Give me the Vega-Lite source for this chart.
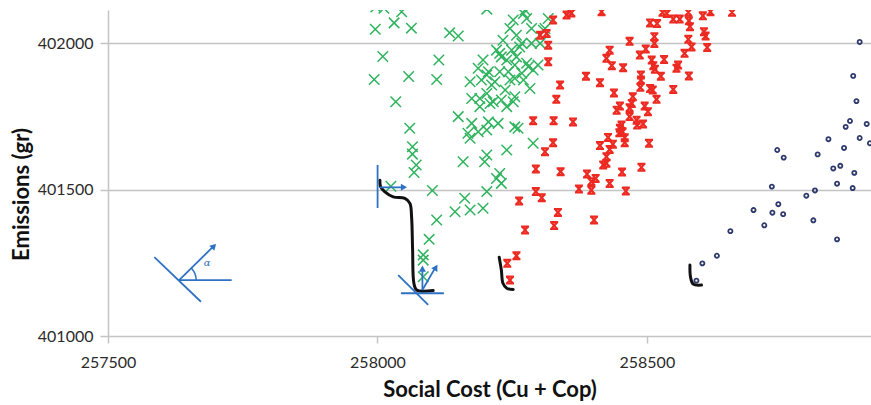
{
  "$schema": "https://vega.github.io/schema/vega-lite/v6.json",
  "width": 763,
  "height": 326,
  "autosize": {"type": "none"},
  "padding": {"left": 108, "top": 10, "right": 0, "bottom": 69},
  "background": "white",
  "config": {"view": {"stroke": null}, "font": "Lato"},
  "datasets": {
    "green": [
      {"cost":257996,"emis":402047},{"cost":258031,"emis":402069},{"cost":258063,"emis":402051},{"cost":258045,"emis":402107},{"cost":258010,"emis":401954},{"cost":258114,"emis":401942},{"cost":257994,"emis":401876},{"cost":258058,"emis":401886},{"cost":258110,"emis":401876},{"cost":258034,"emis":401800},{"cost":258060,"emis":401709},{"cost":258065,"emis":401646},{"cost":258065,"emis":401621},{"cost":258072,"emis":401584},{"cost":258068,"emis":401558},{"cost":258025,"emis":401511},{"cost":258102,"emis":401497},{"cost":258110,"emis":401396},{"cost":258096,"emis":401330},{"cost":258085,"emis":401277},{"cost":258085,"emis":401259},{"cost":258085,"emis":401202},{"cost":258134,"emis":402035},{"cost":258150,"emis":402024},{"cost":258144,"emis":401424},{"cost":258162,"emis":401470},{"cost":258172,"emis":401430},{"cost":258196,"emis":401436},{"cost":258203,"emis":401493},{"cost":258203,"emis":402116},{"cost":258271,"emis":402101},{"cost":258277,"emis":402084},{"cost":258252,"emis":402079},{"cost":258246,"emis":402050},{"cost":258286,"emis":402050},{"cost":258317,"emis":402084},{"cost":258311,"emis":402050},{"cost":258308,"emis":402044},{"cost":258258,"emis":402027},{"cost":258233,"emis":402010},{"cost":258268,"emis":401999},{"cost":258286,"emis":401999},{"cost":258302,"emis":401999},{"cost":258264,"emis":401987},{"cost":258227,"emis":401965},{"cost":258249,"emis":401976},{"cost":258221,"emis":401976},{"cost":258196,"emis":401942},{"cost":258240,"emis":401942},{"cost":258230,"emis":401953},{"cost":258258,"emis":401953},{"cost":258255,"emis":401925},{"cost":258277,"emis":401931},{"cost":258280,"emis":401919},{"cost":258298,"emis":401925},{"cost":258289,"emis":401908},{"cost":258187,"emis":401914},{"cost":258206,"emis":401902},{"cost":258227,"emis":401902},{"cost":258243,"emis":401902},{"cost":258268,"emis":401897},{"cost":258203,"emis":401891},{"cost":258172,"emis":401868},{"cost":258193,"emis":401874},{"cost":258218,"emis":401868},{"cost":258246,"emis":401874},{"cost":258271,"emis":401874},{"cost":258255,"emis":401880},{"cost":258212,"emis":401857},{"cost":258283,"emis":401845},{"cost":258175,"emis":401811},{"cost":258190,"emis":401811},{"cost":258203,"emis":401828},{"cost":258237,"emis":401840},{"cost":258255,"emis":401817},{"cost":258209,"emis":401794},{"cost":258230,"emis":401806},{"cost":258240,"emis":401783},{"cost":258190,"emis":401783},{"cost":258215,"emis":401800},{"cost":258252,"emis":401800},{"cost":258150,"emis":401749},{"cost":258175,"emis":401726},{"cost":258206,"emis":401731},{"cost":258224,"emis":401726},{"cost":258255,"emis":401714},{"cost":258261,"emis":401709},{"cost":258168,"emis":401692},{"cost":258187,"emis":401697},{"cost":258172,"emis":401675},{"cost":258203,"emis":401703},{"cost":258289,"emis":401658},{"cost":258240,"emis":401635},{"cost":258203,"emis":401618},{"cost":258199,"emis":401595},{"cost":258159,"emis":401595},{"cost":258227,"emis":401555},{"cost":258221,"emis":401538},{"cost":258230,"emis":401521},{"cost":257997,"emis":402123},{"cost":258012,"emis":402119},{"cost":258274,"emis":402113}
    ],
    "red": [
      {"cost":258326,"emis":402079},{"cost":258351,"emis":402096},{"cost":258360,"emis":402103},{"cost":258416,"emis":402107},{"cost":258314,"emis":402033},{"cost":258302,"emis":402027},{"cost":258317,"emis":401993},{"cost":258317,"emis":401936},{"cost":258431,"emis":401976},{"cost":258425,"emis":401948},{"cost":258435,"emis":401923},{"cost":258456,"emis":401916},{"cost":258387,"emis":401887},{"cost":258413,"emis":401865},{"cost":258339,"emis":401857},{"cost":258332,"emis":401808},{"cost":258439,"emis":401830},{"cost":258450,"emis":401785},{"cost":258444,"emis":401771},{"cost":258289,"emis":401735},{"cost":258327,"emis":401735},{"cost":258363,"emis":401731},{"cost":258450,"emis":401709},{"cost":258449,"emis":401694},{"cost":258428,"emis":401678},{"cost":258437,"emis":401655},{"cost":258413,"emis":401650},{"cost":258326,"emis":401660},{"cost":258311,"emis":401629},{"cost":258431,"emis":401637},{"cost":258425,"emis":401612},{"cost":258425,"emis":401590},{"cost":258419,"emis":401584},{"cost":258294,"emis":401570},{"cost":258340,"emis":401561},{"cost":258454,"emis":401560},{"cost":258389,"emis":401553},{"cost":258405,"emis":401538},{"cost":258397,"emis":401527},{"cost":258431,"emis":401521},{"cost":258374,"emis":401502},{"cost":258397,"emis":401498},{"cost":258294,"emis":401493},{"cost":258305,"emis":401472},{"cost":258461,"emis":401495},{"cost":258263,"emis":401461},{"cost":258335,"emis":401422},{"cost":258402,"emis":401396},{"cost":258328,"emis":401377},{"cost":258274,"emis":401362},{"cost":258258,"emis":401274},{"cost":258241,"emis":401248},{"cost":258246,"emis":401191},{"cost":258529,"emis":402105},{"cost":258537,"emis":402101},{"cost":258577,"emis":402105},{"cost":258604,"emis":402093},{"cost":258618,"emis":402107},{"cost":258506,"emis":402069},{"cost":258519,"emis":402067},{"cost":258549,"emis":402082},{"cost":258561,"emis":402082},{"cost":258578,"emis":402076},{"cost":258580,"emis":402056},{"cost":258606,"emis":402039},{"cost":258609,"emis":402024},{"cost":258468,"emis":402006},{"cost":258514,"emis":402022},{"cost":258514,"emis":401999},{"cost":258577,"emis":402013},{"cost":258583,"emis":401987},{"cost":258612,"emis":401985},{"cost":258498,"emis":401980},{"cost":258487,"emis":401959},{"cost":258570,"emis":401965},{"cost":258509,"emis":401942},{"cost":258532,"emis":401944},{"cost":258512,"emis":401923},{"cost":258515,"emis":401911},{"cost":258558,"emis":401925},{"cost":258555,"emis":401914},{"cost":258526,"emis":401887},{"cost":258578,"emis":401888},{"cost":258489,"emis":401891},{"cost":258489,"emis":401874},{"cost":258488,"emis":401849},{"cost":258506,"emis":401845},{"cost":258511,"emis":401840},{"cost":258549,"emis":401842},{"cost":258474,"emis":401817},{"cost":258518,"emis":401808},{"cost":258472,"emis":401794},{"cost":258468,"emis":401779},{"cost":258496,"emis":401785},{"cost":258502,"emis":401766},{"cost":258468,"emis":401749},{"cost":258481,"emis":401737},{"cost":258482,"emis":401720},{"cost":258493,"emis":401724},{"cost":258453,"emis":401720},{"cost":258455,"emis":401697},{"cost":258459,"emis":401677},{"cost":258459,"emis":401660},{"cost":258504,"emis":401658},{"cost":258490,"emis":401576},{"cost":258658,"emis":402105}
    ],
    "navy": [
      {"cost":258895,"emis":402004},{"cost":258883,"emis":401888},{"cost":258889,"emis":401802},{"cost":258877,"emis":401734},{"cost":258869,"emis":401714},{"cost":258908,"emis":401724},{"cost":258837,"emis":401672},{"cost":258895,"emis":401676},{"cost":258914,"emis":401658},{"cost":258866,"emis":401642},{"cost":258742,"emis":401635},{"cost":258754,"emis":401609},{"cost":258817,"emis":401620},{"cost":258846,"emis":401572},{"cost":258859,"emis":401581},{"cost":258885,"emis":401557},{"cost":258853,"emis":401520},{"cost":258882,"emis":401505},{"cost":258732,"emis":401510},{"cost":258796,"emis":401479},{"cost":258812,"emis":401497},{"cost":258744,"emis":401450},{"cost":258698,"emis":401430},{"cost":258733,"emis":401421},{"cost":258753,"emis":401416},{"cost":258718,"emis":401378},{"cost":258809,"emis":401395},{"cost":258853,"emis":401330},{"cost":258655,"emis":401358},{"cost":258630,"emis":401274},{"cost":258603,"emis":401248},{"cost":258592,"emis":401189}
    ],
    "curves": [
      {"id":1,"seq":1,"cost":258004.6,"emis":401532},{"id":1,"seq":2,"cost":258005.9,"emis":401510},{"id":1,"seq":3,"cost":258013.9,"emis":401492},{"id":1,"seq":4,"cost":258029.3,"emis":401475},{"id":1,"seq":5,"cost":258051,"emis":401470},{"id":1,"seq":6,"cost":258060.3,"emis":401453},{"id":1,"seq":7,"cost":258063.4,"emis":401407},{"id":1,"seq":8,"cost":258065.3,"emis":401294},{"id":1,"seq":9,"cost":258067.7,"emis":401180},{"id":1,"seq":10,"cost":258072.7,"emis":401157},{"id":1,"seq":11,"cost":258103.5,"emis":401155},
      {"id":2,"seq":1,"cost":258226,"emis":401269},{"id":2,"seq":2,"cost":258230,"emis":401225},{"id":2,"seq":3,"cost":258233,"emis":401180},{"id":2,"seq":4,"cost":258240,"emis":401163},{"id":2,"seq":5,"cost":258252,"emis":401159},
      {"id":3,"seq":1,"cost":258580,"emis":401242},{"id":3,"seq":2,"cost":258581,"emis":401202},{"id":3,"seq":3,"cost":258586,"emis":401177},{"id":3,"seq":4,"cost":258601.5,"emis":401174}
    ],
    "arc": [
      {"seq":1,"cost":257654.5,"emis":401232},{"seq":2,"cost":257661.4,"emis":401213},{"seq":3,"cost":257663.8,"emis":401191}
    ],
    "segs": [
      {"id":"A","cost":257586,"emis":401269,"cost2":257672.5,"emis2":401117},
      {"id":"B","cost":257632,"emis":401191,"cost2":257729.5,"emis2":401191},
      {"id":"C","cost":257632,"emis":401191,"cost2":257698,"emis2":401310},
      {"id":"D","cost":258000.3,"emis":401584,"cost2":258000.3,"emis2":401437},
      {"id":"E","cost":258004.6,"emis":401507.5,"cost2":258050,"emis2":401507.5},
      {"id":"F","cost":258043.6,"emis":401146,"cost2":258123.4,"emis2":401146},
      {"id":"G","cost":258038.6,"emis":401208,"cost2":258094.2,"emis2":401106},
      {"id":"H","cost":258083.5,"emis":401157,"cost2":258083.5,"emis2":401232},
      {"id":"I","cost":258083.5,"emis":401157,"cost2":258108,"emis2":401235}
    ],
    "heads": [
      {"id":"C","cost":257696.6,"emis":401307},
      {"id":"E","cost":258049.2,"emis":401508},
      {"id":"H","cost":258083.5,"emis":401230},
      {"id":"I","cost":258108.5,"emis":401234}
    ],
    "lbl": [
      {"cost":257684,"emis":401248,"t":"α"}
    ]
  },
  "encoding": {
    "x": {
      "field": "cost", "type": "quantitative",
      "scale": {"domain": [257500, 258916], "nice": false, "zero": false},
      "axis": {
        "title": "Social Cost (Cu + Cop)", "values": [257500, 258000, 258500], "format": "d",
        "grid": false, "domain": false, "ticks": true, "tickColor": "#c4c4c4", "tickSize": 7, "tickWidth": 1.5,
        "labelFlush": false, "labelOverlap": false, "labelFont": "Lato", "labelFontSize": 16, "labelColor": "#2b2b2b", "labelPadding": 11,
        "titleFont": "Lato", "titleFontSize": 22, "titleFontWeight": "bold", "titleColor": "#111111",
        "titleBaseline": "alphabetic", "titleY": 60
      }
    },
    "y": {
      "field": "emis", "type": "quantitative",
      "scale": {"domain": [401000, 402113], "nice": false, "zero": false},
      "axis": {
        "title": "Emissions (gr)", "values": [401000, 401500, 402000], "format": "d",
        "grid": true, "gridColor": "#c4c4c4", "gridWidth": 1.5,
        "domain": true, "domainColor": "#c4c4c4", "domainWidth": 1.5,
        "ticks": true, "tickColor": "#c4c4c4", "tickSize": 8, "tickWidth": 1.5,
        "labelFont": "Lato", "labelFontSize": 16, "labelColor": "#2b2b2b", "labelPadding": 7,
        "titleFont": "Lato", "titleFontSize": 22, "titleFontWeight": "bold", "titleColor": "#111111",
        "titleAngle": 270, "titleAlign": "center", "titleBaseline": "alphabetic", "titleX": -80, "titleY": 184
      }
    }
  },
  "layer": [
    {
      "data": {"name": "green"},
      "mark": {"type": "point", "shape": "M-1,-1L1,1M-1,1L1,-1", "filled": false, "size": 110, "stroke": "#2fb35e", "strokeWidth": 1.5, "opacity": 1, "clip": true}
    },
    {
      "data": {"name": "red"},
      "mark": {"type": "point", "shape": "M-1,-0.85H1M-1,0.85H1M-0.75,-0.85L0.75,0.85M0.75,-0.85L-0.75,0.85", "filled": false, "size": 64, "stroke": "#ec2a22", "strokeWidth": 2.2, "opacity": 1, "clip": true}
    },
    {
      "data": {"name": "navy"},
      "mark": {"type": "point", "shape": "circle", "filled": false, "size": 17, "stroke": "#2e3a6c", "strokeWidth": 1.8, "opacity": 1, "clip": true}
    },
    {
      "data": {"name": "curves"},
      "mark": {"type": "line", "color": "#111111", "strokeWidth": 3, "interpolate": "catmull-rom", "strokeCap": "round", "clip": true},
      "encoding": {"detail": {"field": "id", "type": "nominal"}, "order": {"field": "seq", "type": "quantitative"}}
    },
    {
      "data": {"name": "segs"},
      "mark": {"type": "rule", "color": "#2f72c4", "strokeWidth": 1.8, "clip": true},
      "encoding": {"x2": {"field": "cost2"}, "y2": {"field": "emis2"}}
    },
    {
      "data": {"name": "arc"},
      "mark": {"type": "line", "color": "#2f72c4", "strokeWidth": 1.5, "interpolate": "catmull-rom", "clip": true},
      "encoding": {"order": {"field": "seq", "type": "quantitative"}}
    },
    {
      "data": {"name": "heads"},
      "transform": [{"filter": "datum.id == 'C'"}],
      "mark": {"type": "point", "shape": "triangle-up", "filled": true, "size": 50, "color": "#2f72c4", "opacity": 1, "angle": 45}
    },
    {
      "data": {"name": "heads"},
      "transform": [{"filter": "datum.id == 'E'"}],
      "mark": {"type": "point", "shape": "triangle-up", "filled": true, "size": 50, "color": "#2f72c4", "opacity": 1, "angle": 90}
    },
    {
      "data": {"name": "heads"},
      "transform": [{"filter": "datum.id == 'H'"}],
      "mark": {"type": "point", "shape": "triangle-up", "filled": true, "size": 50, "color": "#2f72c4", "opacity": 1, "angle": 0}
    },
    {
      "data": {"name": "heads"},
      "transform": [{"filter": "datum.id == 'I'"}],
      "mark": {"type": "point", "shape": "triangle-up", "filled": true, "size": 50, "color": "#2f72c4", "opacity": 1, "angle": 31}
    },
    {
      "data": {"name": "lbl"},
      "mark": {"type": "text", "color": "#2f72c4", "fontSize": 10, "fontStyle": "italic", "font": "DejaVu Serif"},
      "encoding": {"text": {"field": "t", "type": "nominal"}}
    }
  ]
}
